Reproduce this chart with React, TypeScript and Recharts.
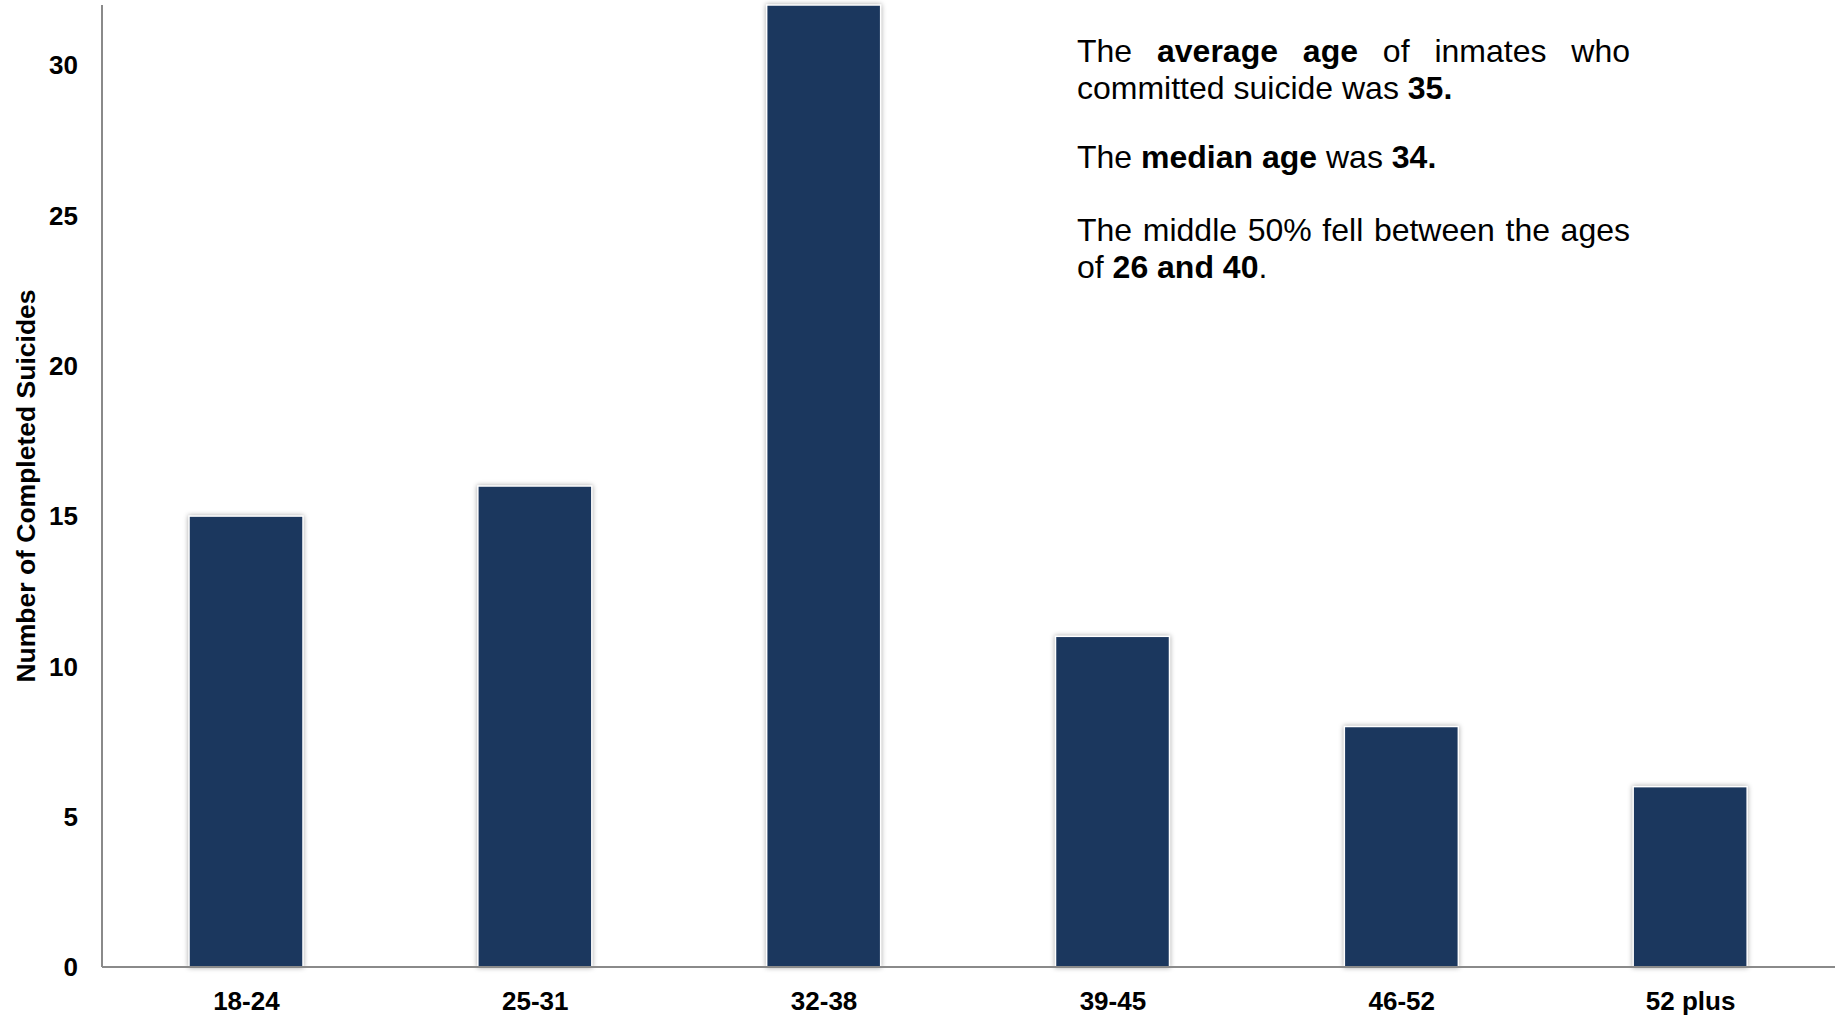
import React from 'react';
import { BarChart, Bar, XAxis, YAxis } from 'recharts';

const ageGroups = ['18-24', '25-31', '32-38', '39-45', '46-52', '52 plus'];
const suicides = [15, 16, 32, 11, 8, 6];
const yTicks = [0, 5, 10, 15, 20, 25, 30];

const data = ageGroups.map((age, i) => ({ age, count: suicides[i] }));

const FONT = '"Liberation Sans", Arial, sans-serif';
const BAR_COLOR = '#1B375E';

const ShadowBar = (props: any) => {
  const { x, y, width, height } = props;
  if (!height || height <= 0) return null;
  return (
    <rect
      x={x}
      y={y}
      width={width}
      height={height}
      fill={BAR_COLOR}
      stroke="#ffffff"
      strokeWidth={1.5}
      style={{ filter: 'drop-shadow(0px 0px 2.5px rgba(0,0,0,0.35))' }}
    />
  );
};

const YLabel = ({ viewBox }: any) => {
  const cx = 26;
  const cy = viewBox ? viewBox.y + viewBox.height / 2 : 486;
  return (
    <text
      x={cx}
      y={cy}
      transform={`rotate(-90 ${cx} ${cy})`}
      textAnchor="middle"
      dominantBaseline="central"
      fontFamily={FONT}
      fontWeight="bold"
      fontSize={26.5}
      fill="#000"
    >
      Number of Completed Suicides
    </text>
  );
};

const lineStyle: React.CSSProperties = { whiteSpace: 'nowrap' };
const justified: React.CSSProperties = { textAlign: 'justify', textAlignLast: 'justify' };

export default function App() {
  return (
    <div style={{ position: 'fixed', left: 0, top: 0, width: 1841, height: 1018, background: '#fff' }}>
      <BarChart
        width={1841}
        height={1018}
        data={data}
        margin={{ top: 5, right: 6, left: 0, bottom: 0 }}
      >
        <XAxis
          dataKey="age"
          height={51}
          tickLine={false}
          tickSize={0}
          tickMargin={25}
          axisLine={{ stroke: '#8a8a8a', strokeWidth: 2 }}
          tick={{ fill: '#000', fontSize: 26, fontWeight: 'bold', fontFamily: FONT }}
        />
        <YAxis
          width={102}
          domain={[0, 32]}
          ticks={yTicks}
          tickLine={false}
          tickSize={0}
          tickMargin={24}
          axisLine={{ stroke: '#8a8a8a', strokeWidth: 2 }}
          tick={{ fill: '#000', fontSize: 26, fontWeight: 'bold', fontFamily: FONT }}
          label={<YLabel />}
          interval={0}
        />
        <Bar dataKey="count" barSize={114} shape={<ShadowBar />} isAnimationActive={false} />
      </BarChart>
      <div
        style={{
          position: 'absolute',
          left: 1077,
          top: 33,
          width: 553,
          fontFamily: FONT,
          fontSize: 32,
          lineHeight: '37px',
          color: '#000',
        }}
      >
        <div style={justified}>
          The <b>average age</b> of inmates who
        </div>
        <div style={lineStyle}>
          committed suicide was <b>35.</b>
        </div>
        <div style={{ ...lineStyle, marginTop: 31.5 }}>
          The <b>median age</b> was <b>34.</b>
        </div>
        <div style={{ ...justified, marginTop: 36.5 }}>The middle 50% fell between the ages</div>
        <div style={lineStyle}>
          of <b>26 and 40</b>.
        </div>
      </div>
    </div>
  );
}
